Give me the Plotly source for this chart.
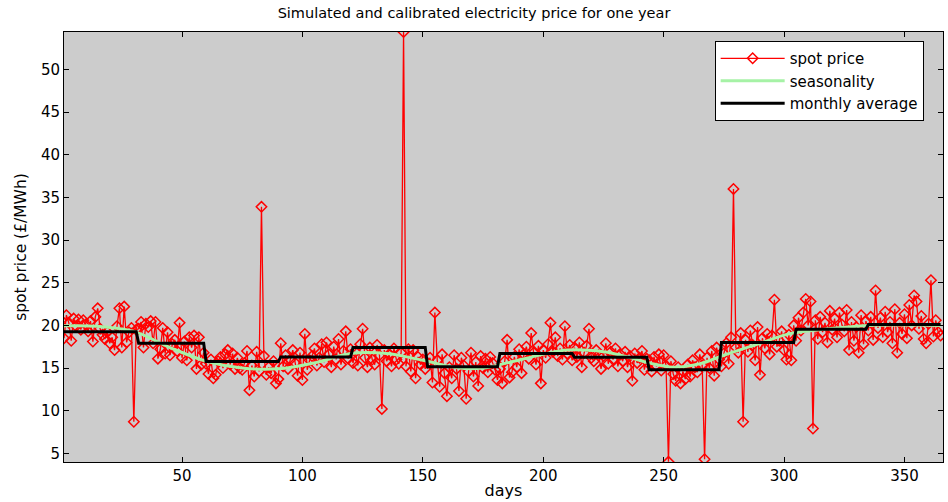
import numpy as np
import plotly.graph_objects as go

## Data

# daily spot price (£/MWh), one value per day, days 1..365, grouped by month
spot_jan = [18.5, 21.2, 20.3, 18.2, 20.8, 19.9, 20.7, 19.5, 20.6, 20.1, 19.3, 20.5, 18.1, 21.0, 22.0, 19.6,
            18.9, 18.4, 19.2, 17.9, 18.6, 17.1, 19.9, 22.0, 17.4, 22.2, 18.0, 19.2, 19.7, 8.7, 19.5]
spot_feb = [19.6, 20.4, 17.4, 20.2, 19.8, 20.5, 17.9, 20.4, 16.1, 17.2, 19.7, 16.7, 19.2, 16.5, 17.8, 18.3,
            17.0, 20.3, 16.2, 18.1, 15.9, 18.6, 17.4, 18.8, 14.9, 18.6, 15.4, 16.8]
spot_mar = [15.5, 14.3, 16.0, 13.8, 14.2, 15.8, 16.3, 15.0, 16.6, 17.1, 15.4, 16.7, 14.9, 16.2, 15.0, 14.8,
            15.6, 17.0, 12.4, 15.3, 14.0, 16.9, 14.6, 33.9, 16.4, 14.2, 15.1, 14.4, 15.8, 13.2, 13.7]
spot_apr = [17.9, 15.2, 16.5, 14.9, 16.0, 17.1, 15.6, 14.1, 16.8, 13.6, 19.0, 14.8, 15.9, 16.4, 17.3, 15.3,
            16.2, 17.8, 15.7, 18.0, 16.6, 15.1, 17.5, 16.0, 18.4, 15.4, 17.0, 19.3, 16.1, 17.2]
spot_may = [15.6, 16.9, 15.3, 17.8, 19.6, 16.2, 15.1, 17.4, 16.0, 15.4, 17.7, 16.5, 10.2, 17.1, 15.8, 16.6,
            15.2, 17.3, 16.0, 15.5, 16.8, 54.4, 15.2, 17.2, 14.6, 17.1, 13.8, 16.3, 15.4, 16.0, 14.9]
spot_jun = [15.6, 16.2, 13.3, 21.5, 15.9, 12.8, 16.6, 14.4, 11.7, 15.1, 13.8, 16.5, 14.9, 12.3, 16.2, 15.3,
            11.4, 14.6, 16.8, 14.0, 15.7, 12.9, 16.4, 15.0, 16.1, 14.5, 16.3, 15.6, 14.8, 13.6]
spot_jul = [14.9, 13.2, 15.8, 18.3, 13.9, 14.5, 16.3, 15.1, 17.2, 14.4, 16.6, 17.5, 16.1, 19.1, 16.8, 15.4,
            17.6, 13.2, 17.1, 16.2, 17.8, 20.3, 16.9, 18.6, 16.4, 17.3, 16.0, 19.9, 16.7, 17.7, 15.9]
spot_aug = [17.4, 16.3, 18.0, 15.1, 16.8, 17.6, 19.6, 16.2, 15.8, 17.1, 16.5, 14.9, 16.4, 17.9, 15.5, 16.9,
            16.0, 17.3, 15.2, 16.6, 15.8, 16.9, 15.1, 16.4, 13.5, 16.7, 15.6, 16.2, 17.0, 14.8, 16.1]
spot_sep = [15.9, 14.6, 16.3, 15.2, 16.6, 14.7, 16.5, 15.3, 4.0, 15.8, 14.3, 13.5, 15.1, 13.2, 14.6, 13.7,
            15.4, 14.0, 15.9, 15.1, 14.5, 16.6, 15.3, 4.3, 16.2, 15.0, 17.0, 14.1, 17.4, 16.0]
spot_oct = [15.2, 16.7, 17.9, 15.5, 18.6, 36.0, 17.4, 16.8, 19.1, 8.7, 18.3, 16.9, 19.4, 17.7, 15.9, 19.8,
            14.2, 18.5, 17.3, 19.0, 16.6, 18.8, 23.0, 17.5, 18.2, 19.3, 17.1, 16.0, 18.9, 15.9, 20.0]
spot_nov = [18.2, 20.9, 19.4, 21.5, 23.1, 20.0, 22.8, 7.9, 20.6, 18.4, 21.0, 19.2, 20.3, 18.0, 21.7, 19.5,
            20.8, 18.6, 21.5, 20.1, 19.3, 21.8, 17.1, 20.4, 18.2, 19.8, 16.8, 21.2, 17.8, 20.5]
spot_dec = [19.4, 21.0, 18.3, 24.1, 19.7, 20.9, 18.6, 21.6, 19.2, 20.4, 17.9, 21.9, 16.8, 20.3, 19.0, 21.3,
            18.5, 22.4, 20.0, 23.5, 22.8, 19.6, 21.1, 18.4, 17.9, 20.2, 25.3, 18.7, 20.6, 19.2, 18.8]

# seasonality curve, sampled
season_days = [1, 15, 30, 45, 60, 75, 90, 105, 120, 135, 150, 165, 175, 185, 200, 210, 225, 235, 244,
               254, 265, 275, 290, 302, 315, 335, 365]
season_vals = [19.95, 19.9, 19.3, 17.4, 15.8, 15.0, 14.9, 15.6, 16.7, 16.7, 15.9, 15.0, 15.0, 15.6, 16.6,
               17.1, 16.9, 16.3, 15.6, 15.1, 15.5, 16.5, 17.9, 19.0, 19.5, 20.0, 20.0]

# monthly averages
month_len = [31, 28, 31, 30, 31, 30, 31, 31, 30, 31, 30, 31]
month_avg = [19.25, 17.9, 15.75, 16.3, 17.4, 15.15, 16.7, 16.25, 14.8, 18.0, 19.55, 20.1]

spot = (spot_jan + spot_feb + spot_mar + spot_apr + spot_may + spot_jun +
        spot_jul + spot_aug + spot_sep + spot_oct + spot_nov + spot_dec)
days = np.arange(1, len(spot) + 1)
monthly = np.repeat(month_avg, month_len)

font_family = "DejaVu Sans, Liberation Sans, Arial, sans-serif"

fig = go.Figure()

fig.add_trace(go.Scatter(x=days, y=spot, mode='lines+markers', name='spot price',
                         line=dict(color='#ff0000', width=1.3),
                         marker=dict(symbol='diamond-open', size=8, color='#ff0000',
                                     line=dict(width=1.5, color='#ff0000'))))
fig.add_trace(go.Scatter(x=season_days, y=season_vals, mode='lines', name='seasonality',
                         line=dict(color='#a6f2a6', width=3, shape='spline')))
fig.add_trace(go.Scatter(x=days, y=monthly, mode='lines', name='monthly average',
                         line=dict(color='black', width=3)))

axis_style = dict(showline=True, linecolor='black', linewidth=1, mirror='allticks',
                  ticks='inside', ticklen=5, tickcolor='black', showgrid=False, zeroline=False,
                  tickfont=dict(size=15, color='black', family=font_family))

fig.update_layout(
    width=948, height=502, autosize=False,
    margin=dict(l=64, r=5, t=32, b=40),
    paper_bgcolor='white', plot_bgcolor='#cccccc',
    font=dict(family=font_family, color='black'),
    title=dict(text='Simulated and calibrated electricity price for one year',
               x=0.5, xanchor='center', y=0.975, yanchor='middle',
               font=dict(size=14.5, family=font_family, color='black')),
    xaxis=dict(range=[1, 366], tickvals=[50, 100, 150, 200, 250, 300, 350],
               title=dict(text='days', font=dict(size=16), standoff=0), **axis_style),
    yaxis=dict(range=[3.98, 54.4], tickvals=[5, 10, 15, 20, 25, 30, 35, 40, 45, 50],
               title=dict(text='spot price (£/MWh)', font=dict(size=15.5), standoff=10), **axis_style),
    legend=dict(x=0.978, y=0.979, xanchor='right', yanchor='top', bgcolor='white',
                bordercolor='black', borderwidth=1, font=dict(size=15, color='black'),
                tracegroupgap=0, itemwidth=64),
    showlegend=True,
)

fig.write_html("out.html", config={'displayModeBar': False},
               post_script="document.body.style.margin='0';document.body.style.overflow='hidden';")
